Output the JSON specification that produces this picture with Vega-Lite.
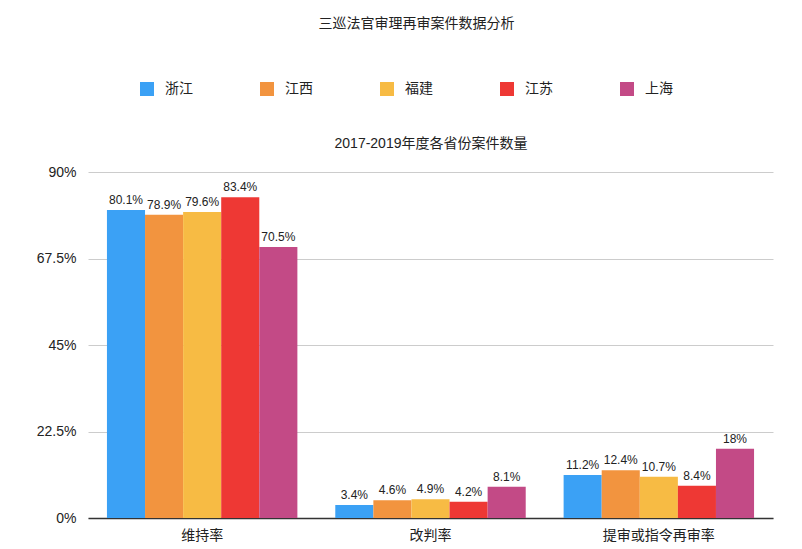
{
  "$schema": "https://vega.github.io/schema/vega-lite/v6.json",
  "autosize": "none",
  "width": 685,
  "height": 346,
  "padding": {"left": 88, "top": 172, "right": 29, "bottom": 31},
  "background": "white",
  "config": {
    "font": "Liberation Sans, Noto Sans CJK SC",
    "view": {"stroke": null}
  },
  "title": {
    "text": "三巡法官审理再审案件数据分析",
    "anchor": "middle",
    "frame": "group",
    "fontSize": 14,
    "fontWeight": "normal",
    "color": "#222",
    "offset": 51,
    "dx": -14
  },
  "data": {
    "values": [
      {"cat": "维持率", "prov": "浙江", "v": 80.1, "label": "80.1%"},
      {"cat": "维持率", "prov": "江西", "v": 78.9, "label": "78.9%"},
      {"cat": "维持率", "prov": "福建", "v": 79.6, "label": "79.6%"},
      {"cat": "维持率", "prov": "江苏", "v": 83.4, "label": "83.4%"},
      {"cat": "维持率", "prov": "上海", "v": 70.5, "label": "70.5%"},
      {"cat": "改判率", "prov": "浙江", "v": 3.4, "label": "3.4%"},
      {"cat": "改判率", "prov": "江西", "v": 4.6, "label": "4.6%"},
      {"cat": "改判率", "prov": "福建", "v": 4.9, "label": "4.9%"},
      {"cat": "改判率", "prov": "江苏", "v": 4.2, "label": "4.2%"},
      {"cat": "改判率", "prov": "上海", "v": 8.1, "label": "8.1%"},
      {"cat": "提审或指令再审率", "prov": "浙江", "v": 11.2, "label": "11.2%"},
      {"cat": "提审或指令再审率", "prov": "江西", "v": 12.4, "label": "12.4%"},
      {"cat": "提审或指令再审率", "prov": "福建", "v": 10.7, "label": "10.7%"},
      {"cat": "提审或指令再审率", "prov": "江苏", "v": 8.4, "label": "8.4%"},
      {"cat": "提审或指令再审率", "prov": "上海", "v": 18, "label": "18%"}
    ]
  },
  "encoding": {
    "xOffset": {
      "field": "prov",
      "type": "nominal",
      "sort": ["浙江", "江西", "福建", "江苏", "上海"],
      "scale": {"paddingInner": 0, "paddingOuter": 0}
    },
    "y": {
      "field": "v",
      "type": "quantitative",
      "scale": {"domain": [0, 90], "nice": false},
      "axis": {
        "title": null,
        "values": [0, 22.5, 45, 67.5, 90],
        "labelExpr": "datum.value + '%'",
        "labelFontSize": 14,
        "labelColor": "#222",
        "ticks": false,
        "domain": false,
        "labelPadding": 12,
        "gridColor": "#cccccc",
        "gridWidth": 1
      }
    }
  },
  "resolve": {"axis": {"x": "independent"}},
  "layer": [
    {
      "mark": {"type": "bar"},
      "encoding": {
        "x": {
          "field": "cat",
          "type": "nominal",
          "sort": ["维持率", "改判率", "提审或指令再审率"],
          "scale": {"paddingInner": 0.166, "paddingOuter": 0.083},
          "axis": {
            "title": null,
            "orient": "bottom",
            "labelAngle": 0,
            "labelFontSize": 14,
            "labelColor": "#222",
            "ticks": false,
            "labelPadding": 10,
            "domainColor": "#333",
            "domainWidth": 1.5
          }
        },
        "color": {
          "field": "prov",
          "type": "nominal",
          "sort": ["浙江", "江西", "福建", "江苏", "上海"],
          "scale": {
            "domain": ["浙江", "江西", "福建", "江苏", "上海"],
            "range": ["#3BA1F5", "#F2943F", "#F7BB44", "#EE3834", "#C34A86"]
          },
          "legend": {
            "title": null,
            "orient": "none",
            "direction": "horizontal",
            "columns": 5,
            "legendX": 52,
            "legendY": -90,
            "symbolType": "square",
            "symbolSize": 196,
            "symbolStrokeWidth": 0,
            "labelFontSize": 14,
            "labelColor": "#222",
            "labelOffset": 11,
            "columnPadding": 67
          }
        }
      }
    },
    {
      "mark": {"type": "text", "baseline": "bottom", "dy": -3, "fontSize": 12, "color": "#222"},
      "encoding": {
        "x": {
          "field": "cat",
          "type": "nominal",
          "sort": ["维持率", "改判率", "提审或指令再审率"],
          "axis": {
            "title": "2017-2019年度各省份案件数量",
            "orient": "top",
            "titleFontSize": 14,
            "titleFontWeight": "normal",
            "titleColor": "#222",
            "titlePadding": 22,
            "labels": false,
            "ticks": false,
            "domain": false,
            "grid": false
          }
        },
        "text": {"field": "label"}
      }
    }
  ]
}
